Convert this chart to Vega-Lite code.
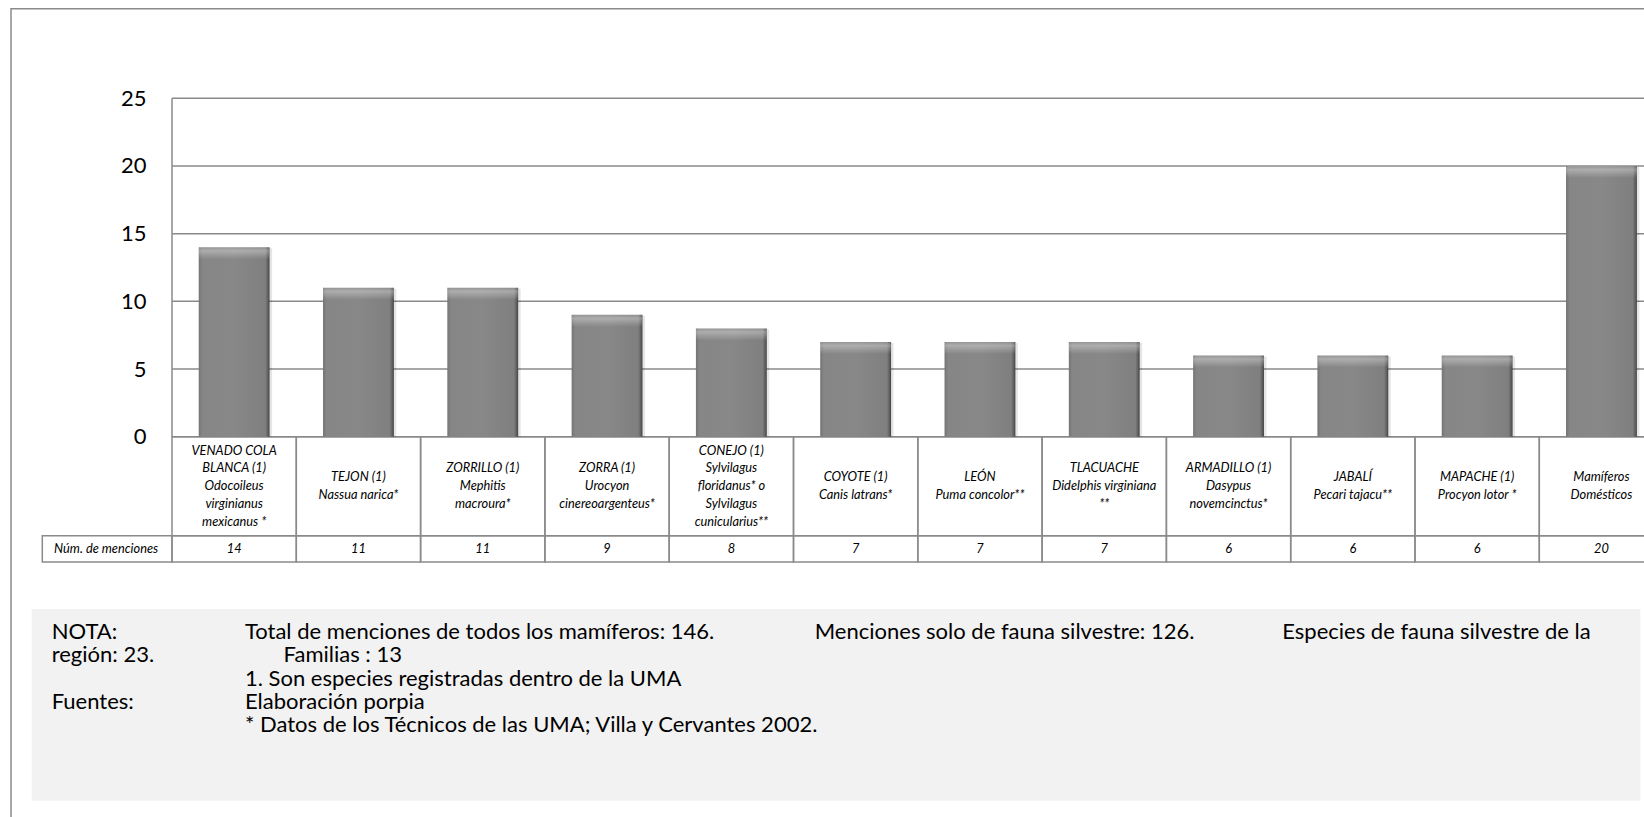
{
  "$schema": "https://vega.github.io/schema/vega-lite/v6.json",
  "width": 1472,
  "height": 718.7,
  "autosize": {"type": "none"},
  "padding": {"left": 172, "top": 98.3, "right": 0, "bottom": 0},
  "background": "white",
  "config": {
    "view": {"stroke": null},
    "font": "Lato",
    "axisY": {
      "grid": false,
      "domain": false,
      "ticks": false,
      "labelPadding": 26,
      "labelFont": "Lato",
      "labelFontSize": 22,
      "labelColor": "#000000"
    }
  },
  "data": {
    "values": [
      {"especie": "VENADO COLA BLANCA", "etiqueta": "VENADO COLA\nBLANCA (1)\nOdocoileus\nvirginianus\nmexicanus *", "menciones": 14},
      {"especie": "TEJON", "etiqueta": "TEJON (1)\nNassua narica*", "menciones": 11},
      {"especie": "ZORRILLO", "etiqueta": "ZORRILLO (1)\nMephitis\nmacroura*", "menciones": 11},
      {"especie": "ZORRA", "etiqueta": "ZORRA (1)\nUrocyon\ncinereoargenteus*", "menciones": 9},
      {"especie": "CONEJO", "etiqueta": "CONEJO (1)\nSylvilagus\nfloridanus* o\nSylvilagus\ncunicularius**", "menciones": 8},
      {"especie": "COYOTE", "etiqueta": "COYOTE (1)\nCanis latrans*", "menciones": 7},
      {"especie": "LEÓN", "etiqueta": "LEÓN\nPuma concolor**", "menciones": 7},
      {"especie": "TLACUACHE", "etiqueta": "TLACUACHE\nDidelphis virginiana\n**", "menciones": 7},
      {"especie": "ARMADILLO", "etiqueta": "ARMADILLO (1)\nDasypus\nnovemcinctus*", "menciones": 6},
      {"especie": "JABALÍ", "etiqueta": "JABALÍ\nPecari tajacu**", "menciones": 6},
      {"especie": "MAPACHE", "etiqueta": "MAPACHE (1)\nProcyon lotor *", "menciones": 6},
      {"especie": "Mamíferos Domésticos", "etiqueta": "Mamíferos\nDomésticos", "menciones": 20}
    ]
  },
  "layer": [
    {
      "mark": {"type": "rect", "fill": "transparent", "stroke": "#8a8a8a", "strokeWidth": 1.5},
      "encoding": {
        "x": {
          "field": "especie",
          "type": "nominal",
          "scale": {
            "type": "band",
            "domain": ["Núm. de menciones", "VENADO COLA BLANCA", "TEJON", "ZORRILLO", "ZORRA", "CONEJO", "COYOTE", "LEÓN", "TLACUACHE", "ARMADILLO", "JABALÍ", "MAPACHE", "Mamíferos Domésticos"],
            "range": [-124.3, 1491.6],
            "paddingInner": 0,
            "paddingOuter": 0
          },
          "axis": null
        },
        "y": {
          "datum": 0,
          "type": "quantitative",
          "scale": {"domain": [-28.096, 25], "nice": false, "zero": false},
          "axis": {"values": [0, 5, 10, 15, 20, 25], "title": null}
        },
        "y2": {"datum": -7.314}
      }
    },
    {
      "mark": {"type": "rect", "fill": "transparent", "stroke": "#8a8a8a", "strokeWidth": 1.5},
      "encoding": {
        "x": {"field": "especie", "type": "nominal", "axis": null},
        "y": {"datum": -7.314, "type": "quantitative", "axis": {"values": [0, 5, 10, 15, 20, 25], "title": null}},
        "y2": {"datum": -9.257}
      }
    },
    {
      "data": {"values": [{}]},
      "mark": {"type": "rect", "fill": "transparent", "stroke": "#8a8a8a", "strokeWidth": 1.5, "xOffset": -36.7, "x2Offset": 40},
      "encoding": {
        "x": {"datum": "Núm. de menciones", "type": "nominal", "bandPosition": 0, "axis": null},
        "x2": {"datum": "Mamíferos Domésticos", "bandPosition": 1},
        "y": {"datum": 31.62, "type": "quantitative", "axis": {"values": [0, 5, 10, 15, 20, 25], "title": null}},
        "y2": {"datum": -30}
      }
    },
    {
      "data": {"values": [{}]},
      "mark": {"type": "rect", "fill": "#f2f2f2", "xOffset": -16},
      "encoding": {
        "x": {"datum": "Núm. de menciones", "type": "nominal", "bandPosition": 0, "axis": null},
        "x2": {"datum": "Mamíferos Domésticos", "bandPosition": 0.813},
        "y": {"datum": -12.73, "type": "quantitative", "axis": {"values": [0, 5, 10, 15, 20, 25], "title": null}},
        "y2": {"datum": -26.89}
      }
    },
    {
      "data": {"values": [{}]},
      "mark": {"type": "rect", "fill": "transparent", "stroke": "#8a8a8a", "strokeWidth": 1.5, "xOffset": -5.4},
      "encoding": {
        "x": {"datum": "Núm. de menciones", "type": "nominal", "bandPosition": 0, "axis": null},
        "x2": {"datum": "VENADO COLA BLANCA", "bandPosition": 0},
        "y": {"datum": -7.314, "type": "quantitative", "axis": {"values": [0, 5, 10, 15, 20, 25], "title": null}},
        "y2": {"datum": -9.257}
      }
    },
    {
      "data": {"values": [{"nivel": 0}, {"nivel": 5}, {"nivel": 10}, {"nivel": 15}, {"nivel": 20}, {"nivel": 25}]},
      "mark": {"type": "rule", "color": "#8a8a8a", "strokeWidth": 1.5},
      "encoding": {
        "x": {"datum": "VENADO COLA BLANCA", "type": "nominal", "bandPosition": 0, "axis": null},
        "x2": {"datum": "Mamíferos Domésticos", "bandPosition": 1.2},
        "y": {"field": "nivel", "type": "quantitative", "axis": {"values": [0, 5, 10, 15, 20, 25], "title": null}}
      }
    },
    {
      "data": {"values": [{}]},
      "mark": {"type": "rule", "color": "#8a8a8a", "strokeWidth": 1.5},
      "encoding": {
        "x": {"datum": "VENADO COLA BLANCA", "type": "nominal", "bandPosition": 0, "axis": null},
        "y": {"datum": 25, "type": "quantitative", "axis": {"values": [0, 5, 10, 15, 20, 25], "title": null}},
        "y2": {"datum": 0}
      }
    },
    {
      "data": {"values": [{}]},
      "mark": {"type": "text", "align": "left", "baseline": "middle", "font": "Lato", "fontSize": 22, "color": "#000000"},
      "encoding": {
        "x": {"datum": "Núm. de menciones", "type": "nominal", "bandPosition": 0.032, "axis": null},
        "y": {"datum": -14.43, "type": "quantitative", "axis": {"values": [0, 5, 10, 15, 20, 25], "title": null}},
        "text": {"value": "NOTA:"}
      }
    },
    {
      "data": {"values": [{}]},
      "mark": {"type": "text", "align": "left", "baseline": "middle", "font": "Lato", "fontSize": 22, "color": "#000000"},
      "encoding": {
        "x": {"datum": "Núm. de menciones", "type": "nominal", "bandPosition": 0.032, "axis": null},
        "y": {"datum": -16.15, "type": "quantitative", "axis": {"values": [0, 5, 10, 15, 20, 25], "title": null}},
        "text": {"value": "región: 23."}
      }
    },
    {
      "data": {"values": [{}]},
      "mark": {"type": "text", "align": "left", "baseline": "middle", "font": "Lato", "fontSize": 22, "color": "#000000"},
      "encoding": {
        "x": {"datum": "Núm. de menciones", "type": "nominal", "bandPosition": 0.032, "axis": null},
        "y": {"datum": -19.59, "type": "quantitative", "axis": {"values": [0, 5, 10, 15, 20, 25], "title": null}},
        "text": {"value": "Fuentes:"}
      }
    },
    {
      "data": {"values": [{}]},
      "mark": {"type": "text", "align": "left", "baseline": "middle", "font": "Lato", "fontSize": 22, "color": "#000000"},
      "encoding": {
        "x": {"datum": "VENADO COLA BLANCA", "type": "nominal", "bandPosition": 0.587, "axis": null},
        "y": {"datum": -14.43, "type": "quantitative", "axis": {"values": [0, 5, 10, 15, 20, 25], "title": null}},
        "text": {"value": "Total de menciones de todos los mamíferos: 146."}
      }
    },
    {
      "data": {"values": [{}]},
      "mark": {"type": "text", "align": "left", "baseline": "middle", "font": "Lato", "fontSize": 22, "color": "#000000"},
      "encoding": {
        "x": {"datum": "VENADO COLA BLANCA", "type": "nominal", "bandPosition": 0.898, "axis": null},
        "y": {"datum": -16.15, "type": "quantitative", "axis": {"values": [0, 5, 10, 15, 20, 25], "title": null}},
        "text": {"value": "Familias : 13"}
      }
    },
    {
      "data": {"values": [{}]},
      "mark": {"type": "text", "align": "left", "baseline": "middle", "font": "Lato", "fontSize": 22, "color": "#000000"},
      "encoding": {
        "x": {"datum": "VENADO COLA BLANCA", "type": "nominal", "bandPosition": 0.587, "axis": null},
        "y": {"datum": -17.87, "type": "quantitative", "axis": {"values": [0, 5, 10, 15, 20, 25], "title": null}},
        "text": {"value": "1. Son especies registradas dentro de la UMA"}
      }
    },
    {
      "data": {"values": [{}]},
      "mark": {"type": "text", "align": "left", "baseline": "middle", "font": "Lato", "fontSize": 22, "color": "#000000"},
      "encoding": {
        "x": {"datum": "VENADO COLA BLANCA", "type": "nominal", "bandPosition": 0.587, "axis": null},
        "y": {"datum": -19.59, "type": "quantitative", "axis": {"values": [0, 5, 10, 15, 20, 25], "title": null}},
        "text": {"value": "Elaboración porpia"}
      }
    },
    {
      "data": {"values": [{}]},
      "mark": {"type": "text", "align": "left", "baseline": "middle", "font": "Lato", "fontSize": 22, "color": "#000000"},
      "encoding": {
        "x": {"datum": "VENADO COLA BLANCA", "type": "nominal", "bandPosition": 0.587, "axis": null},
        "y": {"datum": -21.31, "type": "quantitative", "axis": {"values": [0, 5, 10, 15, 20, 25], "title": null}},
        "text": {"value": "* Datos de los Técnicos de las UMA; Villa y Cervantes 2002."}
      }
    },
    {
      "data": {"values": [{}]},
      "mark": {"type": "text", "align": "left", "baseline": "middle", "font": "Lato", "fontSize": 22, "color": "#000000"},
      "encoding": {
        "x": {"datum": "COYOTE", "type": "nominal", "bandPosition": 0.171, "axis": null},
        "y": {"datum": -14.43, "type": "quantitative", "axis": {"values": [0, 5, 10, 15, 20, 25], "title": null}},
        "text": {"value": "Menciones solo de fauna silvestre: 126."}
      }
    },
    {
      "data": {"values": [{}]},
      "mark": {"type": "text", "align": "left", "baseline": "middle", "font": "Lato", "fontSize": 22, "color": "#000000"},
      "encoding": {
        "x": {"datum": "ARMADILLO", "type": "nominal", "bandPosition": 0.932, "axis": null},
        "y": {"datum": -14.43, "type": "quantitative", "axis": {"values": [0, 5, 10, 15, 20, 25], "title": null}},
        "text": {"value": "Especies de fauna silvestre de la"}
      }
    },
    {
      "mark": {"type": "bar", "width": {"band": 0.57}, "fill": "#000000", "opacity": 0.1, "xOffset": 2.5, "yOffset": 1},
      "encoding": {
        "x": {"field": "especie", "type": "nominal", "axis": null},
        "y": {"field": "menciones", "type": "quantitative", "axis": {"values": [0, 5, 10, 15, 20, 25], "title": null}},
        "y2": {"datum": 0}
      }
    },
    {
      "mark": {
        "type": "bar",
        "width": {"band": 0.57},
        "fill": {
          "gradient": "linear", "x1": 0, "x2": 1, "y1": 0, "y2": 0,
          "stops": [
            {"offset": 0, "color": "#747474"},
            {"offset": 0.05, "color": "#868686"},
            {"offset": 0.5, "color": "#888888"},
            {"offset": 0.94, "color": "#7f7f7f"},
            {"offset": 0.98, "color": "#5c5c5c"},
            {"offset": 1, "color": "#404040"}
          ]
        }
      },
      "encoding": {
        "x": {"field": "especie", "type": "nominal", "axis": null},
        "y": {"field": "menciones", "type": "quantitative", "axis": {"values": [0, 5, 10, 15, 20, 25], "title": null}},
        "y2": {"datum": 0}
      }
    },
    {
      "mark": {
        "type": "bar",
        "width": {"band": 0.57},
        "y2Offset": 12,
        "fill": {
          "gradient": "linear", "x1": 0, "x2": 0, "y1": 0, "y2": 1,
          "stops": [
            {"offset": 0, "color": "rgba(255,255,255,0.12)"},
            {"offset": 0.3, "color": "rgba(255,255,255,0.32)"},
            {"offset": 1, "color": "rgba(255,255,255,0)"}
          ]
        }
      },
      "encoding": {
        "x": {"field": "especie", "type": "nominal", "axis": null},
        "y": {"field": "menciones", "type": "quantitative", "axis": {"values": [0, 5, 10, 15, 20, 25], "title": null}},
        "y2": {"field": "menciones"}
      }
    },
    {
      "transform": [{"filter": {"field": "especie", "oneOf": ["VENADO COLA BLANCA", "CONEJO"]}}],
      "mark": {"type": "text", "align": "center", "baseline": "middle", "font": "Lato", "fontStyle": "italic", "fontSize": 12.8, "lineHeight": 17.7, "lineBreak": "\n", "color": "#000000"},
      "encoding": {
        "x": {"field": "especie", "type": "nominal", "axis": null},
        "y": {"datum": -1.042, "type": "quantitative", "axis": {"values": [0, 5, 10, 15, 20, 25], "title": null}},
        "text": {"field": "etiqueta"}
      }
    },
    {
      "transform": [{"filter": {"field": "especie", "oneOf": ["ZORRILLO", "ZORRA", "TLACUACHE", "ARMADILLO"]}}],
      "mark": {"type": "text", "align": "center", "baseline": "middle", "font": "Lato", "fontStyle": "italic", "fontSize": 12.8, "lineHeight": 17.7, "lineBreak": "\n", "color": "#000000"},
      "encoding": {
        "x": {"field": "especie", "type": "nominal", "axis": null},
        "y": {"datum": -2.349, "type": "quantitative", "axis": {"values": [0, 5, 10, 15, 20, 25], "title": null}},
        "text": {"field": "etiqueta"}
      }
    },
    {
      "transform": [{"filter": {"field": "especie", "oneOf": ["TEJON", "COYOTE", "LEÓN", "JABALÍ", "MAPACHE", "Mamíferos Domésticos"]}}],
      "mark": {"type": "text", "align": "center", "baseline": "middle", "font": "Lato", "fontStyle": "italic", "fontSize": 12.8, "lineHeight": 17.7, "lineBreak": "\n", "color": "#000000"},
      "encoding": {
        "x": {"field": "especie", "type": "nominal", "axis": null},
        "y": {"datum": -3.003, "type": "quantitative", "axis": {"values": [0, 5, 10, 15, 20, 25], "title": null}},
        "text": {"field": "etiqueta"}
      }
    },
    {
      "mark": {"type": "text", "align": "center", "baseline": "middle", "font": "Lato", "fontStyle": "italic", "fontSize": 12.8, "color": "#000000"},
      "encoding": {
        "x": {"field": "especie", "type": "nominal", "axis": null},
        "y": {"datum": -8.286, "type": "quantitative", "axis": {"values": [0, 5, 10, 15, 20, 25], "title": null}},
        "text": {"field": "menciones", "type": "quantitative"}
      }
    },
    {
      "data": {"values": [{}]},
      "mark": {"type": "text", "align": "center", "baseline": "middle", "font": "Lato", "fontStyle": "italic", "fontSize": 12.8, "color": "#000000"},
      "encoding": {
        "x": {"datum": "Núm. de menciones", "type": "nominal", "bandPosition": 0.47, "axis": null},
        "y": {"datum": -8.286, "type": "quantitative", "axis": {"values": [0, 5, 10, 15, 20, 25], "title": null}},
        "text": {"value": "Núm. de menciones"}
      }
    }
  ]
}
